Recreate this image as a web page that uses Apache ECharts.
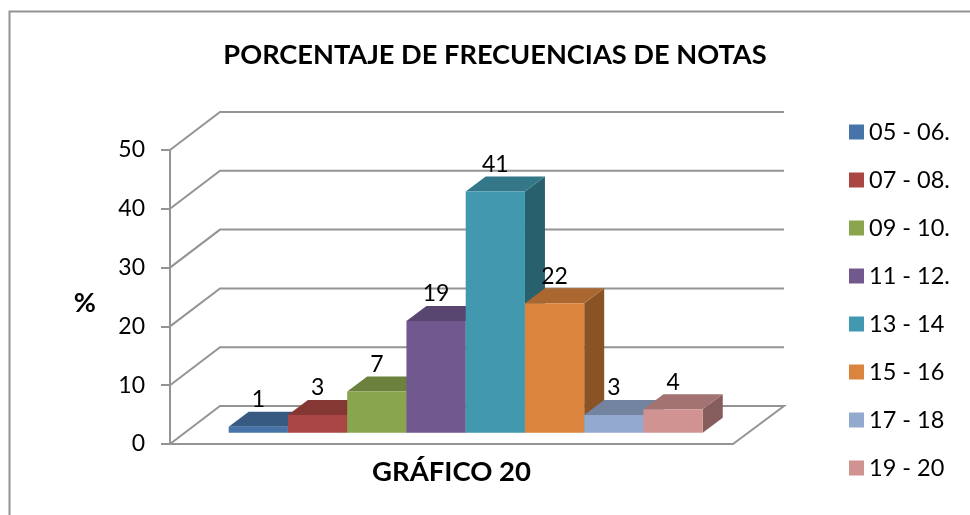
<!DOCTYPE html>
<html>
<head>
<meta charset="utf-8">
<style>
  html, body { margin: 0; padding: 0; background: #fff; }
  #chart { width: 970px; height: 515px; }
</style>
<script src="https://cdn.jsdelivr.net/npm/echarts@6/dist/echarts.min.js"></script>
</head>
<body>
<div id="chart"></div>
<script>
var categories = ['GRÁFICO 20']
var rangos = ['05 - 06.', '07 - 08.', '09 - 10.', '11 - 12.', '13 - 14', '15 - 16', '17 - 18', '19 - 20']
var valores = [1, 3, 7, 19, 41, 22, 3, 4]
var ticks = [0, 10, 20, 30, 40, 50]

var colores = ['#4674a8', '#aa4643', '#89a54e', '#71588f', '#4198af', '#db843d', '#93a9cf', '#d19392']
var fontName = 'Lato'
var gridColor = '#949494'

// desplazamiento de la pared del fondo y de las barras (efecto 3D de Excel)
var wallDx = 50
var wallDy = -38
var frontDx = 14.2
var frontDy = -11.3
var depthDx = 20
var depthDy = -15
var groupRatio = 0.842

function shade(hex, k) {
  var n = parseInt(hex.slice(1), 16)
  var r = Math.round((n >> 16) * k)
  var g = Math.round(((n >> 8) & 255) * k)
  var b = Math.round((n & 255) * k)
  return 'rgb(' + r + ',' + g + ',' + b + ')'
}

function renderWall(params, api) {
  var p = api.coord([api.value(0), api.value(1)])
  var left = params.coordSys.x
  var right = left + params.coordSys.width
  var y = p[1]
  var points = [[left, y], [left + wallDx, y + wallDy], [right + wallDx + 1, y + wallDy]]
  if (api.value(1) === 0) {
    points.push([right, y])
  }
  return {
    type: 'polyline',
    shape: { points: points },
    style: { fill: null, stroke: gridColor, lineWidth: 2 }
  }
}

function renderBar(index) {
  return function(params, api) {
    var band = api.size([1, 0])[0]
    var w = band * groupRatio / rangos.length
    var center = api.coord([api.value(0), 0])
    var top = api.coord([api.value(0), api.value(1)])
    var x0 = center[0] + frontDx - band * groupRatio / 2 + index * w
    var x1 = x0 + w
    var yBase = center[1] + frontDy
    var yTop = top[1] + frontDy
    var color = colores[index]
    return {
      type: 'group',
      children: [
        {
          type: 'polygon',
          shape: { points: [[x1, yBase], [x1 + depthDx, yBase + depthDy], [x1 + depthDx, yTop + depthDy], [x1, yTop]] },
          style: { fill: shade(color, 0.63) }
        },
        {
          type: 'polygon',
          shape: { points: [[x0, yTop], [x0 + depthDx, yTop + depthDy], [x1 + depthDx, yTop + depthDy], [x1, yTop]] },
          style: { fill: shade(color, 0.78) }
        },
        {
          type: 'rect',
          shape: { x: x0, y: yTop, width: w, height: yBase - yTop },
          style: { fill: color }
        },
        {
          type: 'text',
          z2: 10,
          style: {
            text: String(api.value(1)),
            x: (x0 + x1) / 2,
            y: yTop - 27,
            align: 'center',
            verticalAlign: 'middle',
            fill: '#000',
            font: '23px ' + fontName
          }
        }
      ]
    }
  }
}

var series = [{
  name: 'paredes',
  type: 'custom',
  z: 1,
  silent: true,
  renderItem: renderWall,
  encode: { x: 0, y: 1 },
  data: ticks.map(function(t) { return [0, t] })
}]
rangos.forEach(function(nombre, i) {
  series.push({
    name: nombre,
    type: 'custom',
    z: 3,
    renderItem: renderBar(i),
    encode: { x: 0, y: 1 },
    itemStyle: { color: colores[i] },
    data: [[0, valores[i]]]
  })
})

var chart = echarts.init(document.getElementById('chart'))
chart.setOption({
  backgroundColor: '#fff',
  animation: false,
  textStyle: { fontFamily: fontName },
  title: {
    text: 'PORCENTAJE DE FRECUENCIAS DE NOTAS',
    left: 490,
    top: 37,
    textAlign: 'center',
    textStyle: { fontFamily: fontName, fontSize: 27.2, fontWeight: 'bold', color: '#000' }
  },
  legend: {
    orient: 'vertical',
    left: 844,
    top: 115,
    data: rangos.map(function(r) { return { name: r, icon: 'rect' } }),
    itemWidth: 15,
    itemHeight: 15,
    itemGap: 24,
    selectedMode: false,
    textStyle: { fontFamily: fontName, fontSize: 23.5, color: '#000', lineHeight: 24 }
  },
  grid: { left: 170, right: 237, top: 150, bottom: 71 },
  xAxis: {
    type: 'category',
    data: categories,
    axisLine: { lineStyle: { color: gridColor, width: 2 } },
    axisTick: { show: false },
    axisLabel: { margin: 14, fontFamily: fontName, fontSize: 27.5, fontWeight: 'bold', color: '#000' }
  },
  yAxis: {
    type: 'value',
    min: 0,
    max: 50,
    interval: 10,
    name: '%',
    nameLocation: 'middle',
    nameRotate: 0,
    nameGap: 74,
    nameTextStyle: { fontFamily: fontName, fontSize: 27, fontWeight: 'bold', color: '#000', verticalAlign: 'top', lineHeight: 12 },
    splitLine: { show: false },
    axisLine: { show: true, lineStyle: { color: gridColor, width: 2 } },
    axisTick: { show: true, length: 9, lineStyle: { color: gridColor, width: 2 } },
    axisLabel: { margin: 25, fontFamily: fontName, fontSize: 23, color: '#000' }
  },
  graphic: [{
    type: 'polyline',
    silent: true,
    shape: { points: [[9.5, 515], [9.5, 11.5], [970, 11.5]] },
    style: { fill: null, stroke: '#949494', lineWidth: 2 }
  }],
  series: series
})
</script>
</body>
</html>
